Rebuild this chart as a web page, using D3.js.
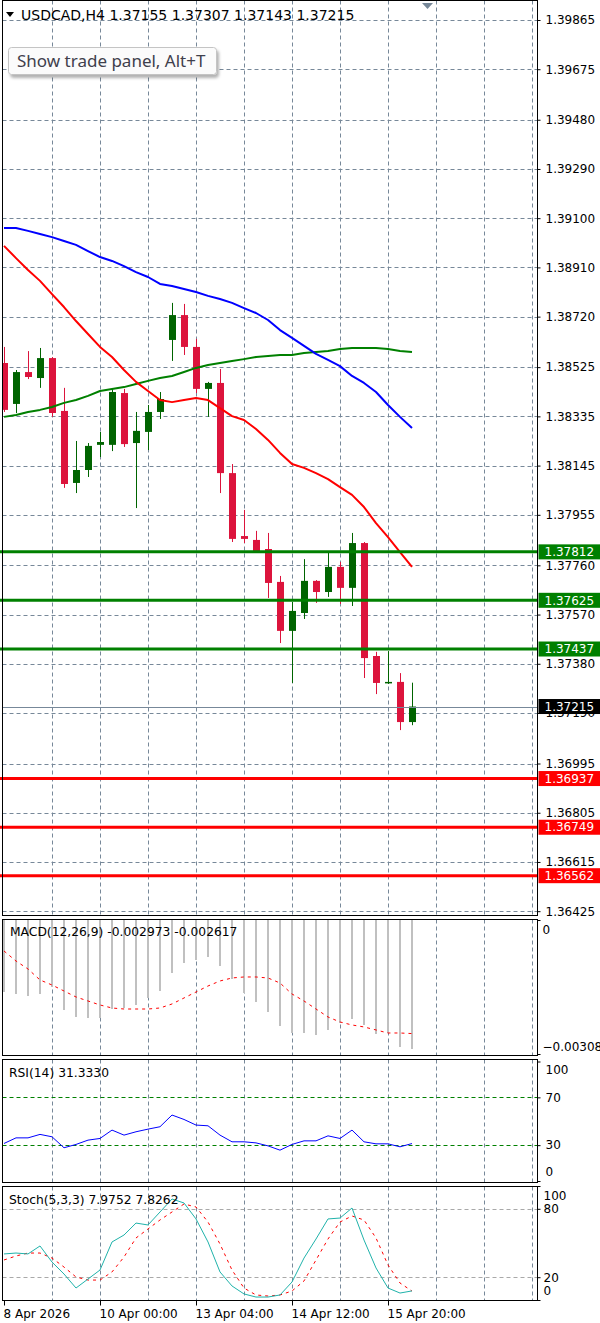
<!DOCTYPE html>
<html>
<head>
<meta charset="utf-8">
<script src="https://cdn.jsdelivr.net/npm/d3@7"></script>
<style>
  html, body { margin: 0; padding: 0; background: #fff; }
  svg { display: block; font-family: "DejaVu Sans", sans-serif; }
  .grid { stroke: #778899; stroke-width: 1; stroke-dasharray: 4,3; fill: none; }
  .frame { stroke: #000; stroke-width: 1; fill: none; }
  .axis text { font-family: "DejaVu Sans", sans-serif; font-size: 12px; fill: #000; }
  .axis line { stroke: #000; }
  .ind-label { font-size: 12.3px; fill: #000; }
</style>
</head>
<body>
<svg id="chart" width="600" height="1323"></svg>
<script>
const symbolTitle = "USDCAD,H4";
const lastQuote = [1.37155, 1.37307, 1.37143, 1.37215];

// H4 candles, oldest first
const open = [1.38541, 1.38383, 1.38506, 1.38483, 1.38560, 1.38356, 1.38078, 1.38128, 1.38225, 1.38225,
  1.38425, 1.38232, 1.38275, 1.38352, 1.38630, 1.38726, 1.38603, 1.38441, 1.38464, 1.38116,
  1.37873, 1.37858, 1.37823, 1.37696, 1.37507, 1.37576, 1.37700, 1.37657, 1.37754, 1.37673,
  1.37846, 1.37410, 1.37306, 1.37310, 1.37155];
const high = [1.38603, 1.38514, 1.38587, 1.38599, 1.38564, 1.38445, 1.38240, 1.38232, 1.38275, 1.38441,
  1.38441, 1.38352, 1.38379, 1.38429, 1.38773, 1.38769, 1.38634, 1.38468, 1.38518, 1.38151,
  1.37974, 1.37893, 1.37885, 1.37719, 1.37619, 1.37784, 1.37703, 1.37811, 1.37773, 1.37885,
  1.37850, 1.37426, 1.37429, 1.37344, 1.37307];
const low = [1.38352, 1.38348, 1.38479, 1.38445, 1.38333, 1.38059, 1.38039, 1.38101, 1.38178, 1.38201,
  1.38217, 1.37981, 1.38205, 1.38325, 1.38549, 1.38572, 1.38425, 1.38333, 1.38039, 1.37850,
  1.37846, 1.37811, 1.37634, 1.37460, 1.37306, 1.37553, 1.37615, 1.37638, 1.37611, 1.37603,
  1.37325, 1.37263, 1.37302, 1.37124, 1.37143];
const close = [1.38360, 1.38506, 1.38487, 1.38560, 1.38348, 1.38074, 1.38128, 1.38221, 1.38236, 1.38429,
  1.38228, 1.38279, 1.38352, 1.38402, 1.38726, 1.38603, 1.38441, 1.38464, 1.38116, 1.37862,
  1.37862, 1.37815, 1.37692, 1.37507, 1.37584, 1.37700, 1.37657, 1.37754, 1.37673, 1.37846,
  1.37402, 1.37306, 1.37310, 1.37155, 1.37215];

const maFast = [1.38993, 1.38946, 1.38900, 1.38858, 1.38807, 1.38757, 1.38703, 1.38653, 1.38603, 1.38564,
  1.38514, 1.38468, 1.38433, 1.38398, 1.38390, 1.38398, 1.38406, 1.38398, 1.38367, 1.38336,
  1.38321, 1.38286, 1.38244, 1.38194, 1.38151, 1.38136, 1.38116, 1.38093, 1.38062, 1.38032,
  1.37985, 1.37923, 1.37869, 1.37811, 1.37754];
const maSlow = [1.39062, 1.39062, 1.39051, 1.39039, 1.39027, 1.39012, 1.38997, 1.38973, 1.38950, 1.38935,
  1.38915, 1.38892, 1.38873, 1.38846, 1.38838, 1.38827, 1.38815, 1.38800, 1.38788, 1.38773,
  1.38753, 1.38734, 1.38707, 1.38668, 1.38638, 1.38607, 1.38576, 1.38553, 1.38529, 1.38491,
  1.38464, 1.38429, 1.38379, 1.38333, 1.38290];
const maMid = [1.38333, 1.38340, 1.38352, 1.38360, 1.38371, 1.38387, 1.38398, 1.38414, 1.38433, 1.38441,
  1.38448, 1.38460, 1.38472, 1.38483, 1.38491, 1.38506, 1.38522, 1.38533, 1.38541, 1.38549,
  1.38556, 1.38564, 1.38568, 1.38572, 1.38572, 1.38580, 1.38583, 1.38587, 1.38595, 1.38599,
  1.38599, 1.38599, 1.38595, 1.38587, 1.38583];

const resistanceLevels = [1.37812, 1.37625, 1.37437];
const supportLevels = [1.36937, 1.36749, 1.36562];
const priceTicks = [1.39865, 1.39675, 1.39480, 1.39290, 1.39100, 1.38910, 1.38720, 1.38525, 1.38335, 1.38145,
  1.37955, 1.37760, 1.37570, 1.37380, 1.37190, 1.36995, 1.36805, 1.36615, 1.36425];

const macdHist = [-0.001659, -0.001705, -0.001751, -0.001705, -0.001544, -0.002074, -0.002235, -0.002258, -0.002258, -0.002051,
  -0.002028, -0.001958, -0.001797, -0.001636, -0.001221, -0.000991, -0.000922, -0.000852, -0.001060, -0.001359,
  -0.001682, -0.001889, -0.002120, -0.002442, -0.002604, -0.002604, -0.002650, -0.002534, -0.002373, -0.002281,
  -0.002419, -0.002627, -0.002604, -0.002926, -0.002973];
const macdSignal = [-0.000714, -0.000945, -0.001129, -0.001382, -0.001498, -0.001636, -0.001774, -0.001866, -0.001958, -0.002028,
  -0.002051, -0.002051, -0.002051, -0.002028, -0.001935, -0.001797, -0.001659, -0.001521, -0.001405, -0.001336,
  -0.001313, -0.001313, -0.001336, -0.001452, -0.001705, -0.001866, -0.002051, -0.002235, -0.002350, -0.002419,
  -0.002465, -0.002534, -0.002604, -0.002604, -0.002617];

const rsi = [31.4, 36.1, 36.1, 39.0, 37.0, 27.8, 30.6, 34.2, 35.6, 42.6,
  38.4, 41.2, 43.4, 45.4, 55.2, 51.5, 46.8, 46.2, 38.4, 32.8,
  32.8, 31.9, 29.4, 25.8, 30.6, 33.6, 33.6, 37.8, 35.6, 42.6,
  32.8, 31.1, 31.1, 28.6, 31.333];

const stochK = [40.4, 41.2, 40.4, 47.4, 33.3, 22.8, 10.5, 18.4, 26.3, 50.9,
  57.0, 67.5, 65.8, 77.2, 88.6, 85.1, 71.1, 50.9, 24.6, 12.3,
  5.3, 2.6, 2.6, 4.4, 15.8, 36.8, 53.5, 71.1, 71.9, 80.7,
  52.6, 28.1, 10.5, 6.1, 7.9752];
const stochD = [35.1, 38.6, 41.2, 41.2, 36.8, 28.9, 20.2, 17.5, 17.5, 24.6,
  37.7, 54.4, 62.3, 70.2, 77.2, 84.2, 81.6, 68.4, 49.1, 26.3,
  10.5, 4.4, 3.5, 4.4, 7.9, 16.7, 35.1, 53.5, 68.4, 73.7,
  70.2, 54.4, 30.7, 14.9, 7.8262];

const xTickIndex = [0, 8, 16, 24, 32];
const xTickLabels = ["8 Apr 2026", "10 Apr 00:00", "13 Apr 04:00", "14 Apr 12:00", "15 Apr 20:00"];

const BULL = "#006400";
const BEAR = "#dc143c";
const LEFT = 2.5;
const RIGHT = 537.5;
const n = close.length;

const panels = [
  { id: "main", top: 0.5, bottom: 915.5 },
  { id: "macd", top: 919.5, bottom: 1055.5 },
  { id: "rsi", top: 1059.5, bottom: 1182.5 },
  { id: "stoch", top: 1186.5, bottom: 1300.5 }
];

const svg = d3.select("#chart");
const x = d3.scaleLinear().domain([0, n - 1]).range([4, 4 + 12 * (n - 1)]);
const yMain = d3.scaleLinear().domain([1.364064, 1.399422]).range([916, 0]);
const yMacd = d3.scaleLinear().domain([-0.003088, 0]).range([1054, 920]);
const yRsi = d3.scaleLinear().domain([0, 100]).range([1181, 1061.5]);
const yStoch = d3.scaleLinear().domain([0, 100]).range([1300, 1186]);

const defs = svg.append("defs");
panels.forEach(p => {
  defs.append("clipPath").attr("id", `clip-${p.id}`)
    .append("rect")
    .attr("x", LEFT).attr("y", p.top)
    .attr("width", RIGHT - LEFT).attr("height", p.bottom - p.top);
});
const shadow = defs.append("filter").attr("id", "tipShadow")
  .attr("x", "-10%").attr("y", "-30%").attr("width", "130%").attr("height", "190%");
shadow.append("feDropShadow").attr("dx", 2).attr("dy", 3).attr("stdDeviation", 1.5)
  .attr("flood-color", "#000").attr("flood-opacity", 0.3);

// vertical grid every 4 bars, in every panel
const gridBars = d3.range(4, 48, 4);
panels.forEach(p => {
  svg.append("g")
    .selectAll("line")
    .data(gridBars)
    .join("line")
    .attr("class", "grid")
    .attr("x1", d => Math.round(x(d)) + 0.5)
    .attr("x2", d => Math.round(x(d)) + 0.5)
    .attr("y1", p.top)
    .attr("y2", p.bottom);
});

// horizontal price grid
svg.append("g")
  .selectAll("line")
  .data(priceTicks)
  .join("line")
  .attr("class", "grid")
  .attr("x1", LEFT)
  .attr("x2", RIGHT)
  .attr("y1", d => Math.round(yMain(d)) + 0.5)
  .attr("y2", d => Math.round(yMain(d)) + 0.5);

// indicator level lines
svg.append("g")
  .selectAll("line")
  .data([70, 30])
  .join("line")
  .attr("x1", LEFT).attr("x2", RIGHT)
  .attr("y1", d => Math.round(yRsi(d)) + 0.5)
  .attr("y2", d => Math.round(yRsi(d)) + 0.5)
  .attr("stroke", "#008000")
  .attr("stroke-dasharray", "4,3");
svg.append("g")
  .selectAll("line")
  .data([80, 20])
  .join("line")
  .attr("x1", LEFT).attr("x2", RIGHT)
  .attr("y1", d => Math.round(yStoch(d)) + 0.5)
  .attr("y2", d => Math.round(yStoch(d)) + 0.5)
  .attr("stroke", "#a9a9a9")
  .attr("stroke-dasharray", "4,3");

// candles
const candles = d3.range(n).map(i => ({ i, o: open[i], h: high[i], l: low[i], c: close[i] }));
const main = svg.append("g").attr("clip-path", "url(#clip-main)");
const candleG = main.selectAll("g.candle")
  .data(candles)
  .join("g")
  .attr("class", "candle")
  .attr("fill", d => (d.c >= d.o ? BULL : BEAR))
  .attr("stroke", d => (d.c >= d.o ? BULL : BEAR));
candleG.append("line")
  .attr("x1", d => x(d.i) + 0.5)
  .attr("x2", d => x(d.i) + 0.5)
  .attr("y1", d => yMain(d.h))
  .attr("y2", d => yMain(d.l))
  .attr("stroke-width", 1);
candleG.append("rect")
  .attr("stroke", "none")
  .attr("x", d => x(d.i) - 3)
  .attr("width", 7)
  .attr("y", d => yMain(Math.max(d.o, d.c)))
  .attr("height", d => Math.max(1.5, Math.abs(yMain(d.o) - yMain(d.c))));

// support / resistance lines
const levels = resistanceLevels.map(v => ({ v, color: "#008000" }))
  .concat(supportLevels.map(v => ({ v, color: "#ff0000" })));
svg.append("g")
  .selectAll("line")
  .data(levels)
  .join("line")
  .attr("x1", 0).attr("x2", RIGHT)
  .attr("y1", d => yMain(d.v))
  .attr("y2", d => yMain(d.v))
  .attr("stroke", d => d.color)
  .attr("stroke-width", 3);

// moving averages
const maLine = d3.line().x((d, i) => x(i)).y(d => yMain(d));
[[maMid, "#008000"], [maFast, "#ff0000"], [maSlow, "#0000ff"]].forEach(([data, color]) => {
  main.append("path")
    .datum(data)
    .attr("d", maLine)
    .attr("fill", "none")
    .attr("stroke", color)
    .attr("stroke-width", 2)
    .attr("stroke-linejoin", "round");
});

// bid line
svg.append("line")
  .attr("x1", LEFT).attr("x2", RIGHT)
  .attr("y1", Math.round(yMain(lastQuote[3])) + 0.5)
  .attr("y2", Math.round(yMain(lastQuote[3])) + 0.5)
  .attr("stroke", "#778899");

// MACD
const macdG = svg.append("g").attr("clip-path", "url(#clip-macd)");
macdG.selectAll("line")
  .data(macdHist)
  .join("line")
  .attr("x1", (d, i) => x(i))
  .attr("x2", (d, i) => x(i))
  .attr("y1", yMacd(0))
  .attr("y2", d => yMacd(d))
  .attr("stroke", "#c0c0c0")
  .attr("stroke-width", 2);
macdG.append("path")
  .datum(macdSignal)
  .attr("d", d3.line().x((d, i) => x(i)).y(d => yMacd(d)))
  .attr("fill", "none")
  .attr("stroke", "#ff0000")
  .attr("stroke-dasharray", "3,4");

// RSI
svg.append("g").attr("clip-path", "url(#clip-rsi)")
  .append("path")
  .datum(rsi)
  .attr("d", d3.line().x((d, i) => x(i)).y(d => yRsi(d)))
  .attr("fill", "none")
  .attr("stroke", "#0000ff");

// Stochastic
const stochG = svg.append("g").attr("clip-path", "url(#clip-stoch)");
stochG.append("path")
  .datum(stochD)
  .attr("d", d3.line().x((d, i) => x(i)).y(d => yStoch(d)))
  .attr("fill", "none")
  .attr("stroke", "#ff0000")
  .attr("stroke-dasharray", "3,4");
stochG.append("path")
  .datum(stochK)
  .attr("d", d3.line().x((d, i) => x(i)).y(d => yStoch(d)))
  .attr("fill", "none")
  .attr("stroke", "#20b2aa");

// panel frames
svg.append("g")
  .selectAll("rect")
  .data(panels)
  .join("rect")
  .attr("class", "frame")
  .attr("x", LEFT)
  .attr("y", d => d.top)
  .attr("width", RIGHT - LEFT)
  .attr("height", d => d.bottom - d.top);

// right-hand scales
function rightAxis(scale, values, fmt, shiftFn, pad = 5) {
  const g = svg.append("g")
    .attr("class", "axis")
    .attr("transform", `translate(${RIGHT},0)`)
    .call(d3.axisRight(scale).tickValues(values).tickFormat(fmt).tickSize(3).tickPadding(pad));
  g.select(".domain").remove();
  g.attr("font-family", null).attr("font-size", null);
  if (shiftFn) g.selectAll(".tick text").attr("y", d => shiftFn(d));
  return g;
}
rightAxis(yMain, priceTicks, d3.format(".5f"));
rightAxis(yMacd, [0, -0.003088], d => (d === 0 ? "0" : d3.format(".6f")(d)), d => (d === 0 ? 10 : -7), 2);
rightAxis(yRsi, [100, 70, 30, 0], d3.format("d"), d => (d === 100 ? 8 : d === 0 ? -9 : 0));
rightAxis(yStoch, [100, 80, 20, 0], d3.format("d"), d => (d === 100 ? 10 : d === 0 ? -9 : 0), 3);

// level tags on the scale
const tags = levels.map(d => ({ v: d.v, fill: d.color }))
  .concat([{ v: lastQuote[3], fill: "#000" }]);
const tagG = svg.append("g")
  .selectAll("g")
  .data(tags)
  .join("g")
  .attr("transform", d => `translate(${RIGHT + 1},${yMain(d.v)})`);
tagG.append("rect")
  .attr("x", 0).attr("y", -7.5)
  .attr("width", 62).attr("height", 15)
  .attr("fill", d => d.fill);
tagG.append("text")
  .attr("x", 6).attr("dy", "0.35em")
  .attr("font-size", 12)
  .attr("fill", "#fff")
  .text(d => d3.format(".5f")(d.v));

// time scale
const xAxis = svg.append("g")
  .attr("class", "axis")
  .attr("transform", `translate(0,${panels[3].bottom})`)
  .call(d3.axisBottom(x).tickValues(xTickIndex).tickFormat((d, i) => xTickLabels[i]).tickSize(5).tickPadding(4));
xAxis.select(".domain").remove();
xAxis.attr("font-family", null).attr("font-size", null);
xAxis.selectAll(".tick text")
  .attr("text-anchor", "start")
  .attr("x", -1)
  .style("font-size", "12px");

// indicator captions
svg.append("text").attr("class", "ind-label").attr("x", 10).attr("y", 936)
  .text(`MACD(12,26,9) ${macdHist[n - 1].toFixed(6)} ${macdSignal[n - 1].toFixed(6)}`);
svg.append("text").attr("class", "ind-label").attr("x", 9).attr("y", 1077)
  .text(`RSI(14) ${rsi[n - 1].toFixed(4)}`);
svg.append("text").attr("class", "ind-label").attr("x", 9).attr("y", 1204)
  .text(`Stoch(5,3,3) ${stochK[n - 1].toFixed(4)} ${stochD[n - 1].toFixed(4)}`);

// header
svg.append("path").attr("d", "M6,12 L14,12 L10,17 Z").attr("fill", "#000");
svg.append("text").attr("x", 21).attr("y", 19.5)
  .attr("font-size", 14)
  .attr("fill", "#000")
  .text(`${symbolTitle} ${lastQuote.map(d3.format(".5f")).join(" ")}`);

// chart shift marker
svg.append("path").attr("d", "M422,3 L433,3 L427.5,9 Z").attr("fill", "#778899");

// trade panel tooltip
svg.append("rect")
  .attr("x", 8.5).attr("y", 47.5)
  .attr("width", 208).attr("height", 27)
  .attr("rx", 3)
  .attr("fill", "#fbfbfb")
  .attr("stroke", "#c4c4c4")
  .attr("filter", "url(#tipShadow)");
svg.append("text")
  .attr("x", 17).attr("y", 67)
  .attr("font-family", "'Noto Sans', sans-serif")
  .attr("font-size", 17)
  .attr("fill", "#40404c")
  .text("Show trade panel, Alt+T");
</script>
</body>
</html>
